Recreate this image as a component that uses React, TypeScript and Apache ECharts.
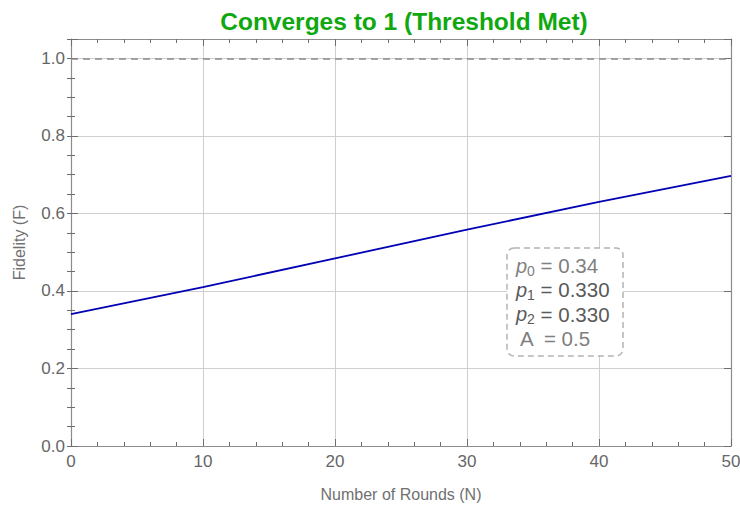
import React, { useEffect, useRef } from "react";
import * as echarts from "echarts";

const rounds = [0, 10, 20, 30, 40, 50];
const fidelity = [0.34, 0.41, 0.484, 0.558, 0.63, 0.697];
const threshold = 1.0;
const xTicks = [0, 10, 20, 30, 40, 50];
const yTicks = [0, 0.2, 0.4, 0.6, 0.8, 1.0];
const titleText = "Converges to 1 (Threshold Met)";
const xName = "Number of Rounds (N)";
const yName = "Fidelity (F)";
const params = [
  { sym: "p", sub: "0", val: "0.34", color: "#808080" },
  { sym: "p", sub: "1", val: "0.330", color: "#5a5a5a" },
  { sym: "p", sub: "2", val: "0.330", color: "#5a5a5a" },
  { sym: "A", sub: "", val: "0.5", color: "#808080" },
];

const FONT = "'Liberation Sans', Arial, sans-serif";
const frameColor = "#8c8c8c";
const tickColor = "#6e6e6e";

export default function App() {
  const ref = useRef<HTMLDivElement>(null);
  useEffect(() => {
    document.body.style.margin = "0";
    const chart = echarts.init(ref.current!, null, { renderer: "svg" });
    const yMin = 0,
      yMax = 1.05;
    const majorY = (pos: "left" | "right", labels: boolean) => ({
      type: "value",
      position: pos,
      min: yMin,
      max: yMax,
      interval: 0.2,
      name: labels ? yName : "",
      nameLocation: "middle",
      nameGap: 44,
      nameTextStyle: { color: "#707070", fontSize: 16, fontFamily: FONT },
      axisLine: { show: true, onZero: false, lineStyle: { color: frameColor, width: 1.2 } },
      axisTick: { show: true, inside: true, length: 7, lineStyle: { color: tickColor } },
      minorTick: { show: false },
      axisLabel: {
        show: labels,
        color: "#666",
        fontSize: 17,
        fontFamily: FONT,
        margin: 6,
        formatter: (v: number) =>
          yTicks.some((t) => Math.abs(t - v) < 1e-6) ? v.toFixed(1) : "",
      },
      splitLine: { show: labels, lineStyle: { color: "#cfcfcf", width: 1 } },
    });
    const minorY = (pos: "left" | "right") => ({
      type: "value",
      position: pos,
      min: yMin,
      max: yMax,
      interval: 0.05,
      axisLine: { show: false },
      axisTick: { show: true, inside: true, length: 4, lineStyle: { color: tickColor } },
      axisLabel: { show: false },
      splitLine: { show: false },
    });
    const xAxis = (pos: "bottom" | "top", labels: boolean) => ({
      type: "value",
      position: pos,
      min: 0,
      max: 50,
      interval: 10,
      name: labels ? xName : "",
      nameLocation: "middle",
      nameGap: 40,
      nameTextStyle: { color: "#707070", fontSize: 16, fontFamily: FONT },
      axisLine: { show: true, onZero: false, lineStyle: { color: frameColor, width: 1.2 } },
      axisTick: { show: true, inside: true, length: 7, lineStyle: { color: tickColor } },
      minorTick: { show: true, splitNumber: 5, length: 4, lineStyle: { color: tickColor } },
      axisLabel: {
        show: labels,
        color: "#666",
        fontSize: 17,
        fontFamily: FONT,
        margin: 7,
        formatter: (v: number) => (xTicks.includes(v) ? String(v) : ""),
      },
      splitLine: { show: labels, lineStyle: { color: "#cfcfcf", width: 1 } },
    });

    const boxX = 507,
      boxY = 248,
      lineH = 24.3;
    const textEls = params.map((p, i) => ({
      type: "text",
      left: boxX + (p.sub ? 9 : 13),
      top: boxY + 7 + i * lineH,
      style: {
        text: p.sub
          ? `{i|${p.sym}}{s|${p.sub}}{n| = ${p.val}}`
          : `{n|${p.sym}  = ${p.val}}`,
        rich: {
          i: { fontStyle: "italic", fontSize: 20, fontFamily: FONT, fill: p.color, color: p.color },
          s: { fontSize: 14, fontFamily: FONT, fill: p.color, color: p.color, padding: [10, 0, 0, 0] },
          n: { fontSize: 20.5, fontFamily: FONT, fill: p.color, color: p.color },
        },
      },
    }));

    chart.setOption({
      animation: false,
      backgroundColor: "#ffffff",
      title: {
        text: titleText,
        left: 399,
        textAlign: "center",
        top: 4,
        textStyle: { color: "#10a810", fontSize: 24.5, fontWeight: "bold", fontFamily: FONT },
      },
      grid: {
        left: 71,
        right: 9,
        top: 39,
        bottom: 62,
        containLabel: false,
        outerBoundsMode: "none",
      },
      xAxis: [xAxis("bottom", true), xAxis("top", false)],
      yAxis: [majorY("left", true), minorY("left"), majorY("right", false), minorY("right")],
      series: [
        {
          type: "line",
          xAxisIndex: 0,
          yAxisIndex: 0,
          data: rounds.map((r, i) => [r, fidelity[i]]),
          showSymbol: false,
          lineStyle: { color: "#0000b4", width: 1.8 },
          markLine: {
            silent: true,
            symbol: "none",
            label: { show: false },
            lineStyle: { color: "#8a8a8a", type: [7, 5], width: 1.6 },
            data: [{ yAxis: threshold }],
          },
        },
      ],
      graphic: [
        {
          type: "rect",
          shape: { x: boxX, y: boxY, width: 116, height: 108, r: 7 },
          style: { fill: "#ffffff", stroke: "#b4b4b4", lineWidth: 1.5, lineDash: [6, 4] },
          z: 10,
        },
        ...textEls.map((t) => ({ ...t, z: 11 })),
      ],
    });
    return () => chart.dispose();
  }, []);
  return <div ref={ref} style={{ width: 740, height: 508 }} />;
}
